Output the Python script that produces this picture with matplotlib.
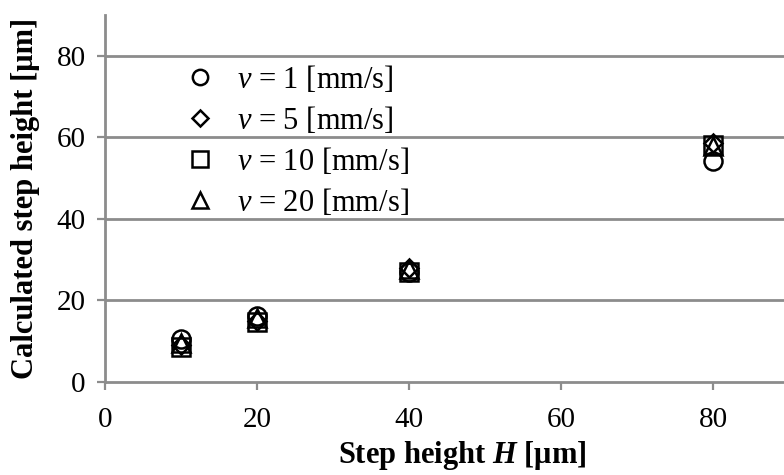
import numpy as np
import matplotlib
matplotlib.use("Agg")
from matplotlib import pyplot as plt

plt.rcParams['font.family'] = ['Liberation Serif', 'DejaVu Serif']
plt.rcParams['mathtext.fontset'] = 'custom'
plt.rcParams['mathtext.rm'] = 'Liberation Serif'
plt.rcParams['mathtext.it'] = 'Liberation Serif:italic'
plt.rcParams['mathtext.bf'] = 'Liberation Serif:bold:italic'

# step heights H [um]
step_h = [10, 20, 40, 80]

# calculated step height [um] for each scan speed
calc_v1 = [10.5, 16.3, 27.0, 54.3]
calc_v5 = [9.0, 15.0, 28.0, 58.5]
calc_v10 = [8.6, 14.6, 27.0, 58.0]
calc_v20 = [9.5, 15.6, 27.6, 57.8]

speeds = [1, 5, 10, 20]
markers = ['o', 'D', 's', '^']
msizes = [13, 9.5, 13, 13]

gray = '#8c8c8c'

fig = plt.figure(figsize=(7.84, 4.75), dpi=100)
ax = fig.add_axes([105/784, 93/475, 684/784, 367/475])

series = [calc_v1, calc_v5, calc_v10, calc_v20]
for vals, v, m, ms in zip(series, speeds, markers, msizes):
    ax.plot(step_h, vals, linestyle='none', marker=m, markersize=ms,
            markerfacecolor='none', markeredgecolor='black',
            markeredgewidth=1.8, label=r'$v$ = %d [mm/s]' % v)

ax.set_xlim(0, 90)
ax.set_ylim(0, 90)
ax.set_xticks([0, 20, 40, 60, 80])
ax.set_yticks([0, 20, 40, 60, 80])

for y in [20, 40, 60, 80]:
    ax.axhline(y, color=gray, lw=2, zorder=0)

for s in ['top', 'right']:
    ax.spines[s].set_visible(False)
for s in ['left', 'bottom']:
    ax.spines[s].set_color(gray)
    ax.spines[s].set_linewidth(2)

ax.tick_params(axis='both', colors=gray, width=1.6, length=6,
               labelsize=21, labelcolor='black')
ax.tick_params(axis='y', direction='out', pad=8)
ax.tick_params(axis='x', direction='out', pad=12)

ax.set_xlabel(r'Step height $\mathbf{H}$ [μm]', fontsize=22,
              fontweight='bold', labelpad=6)
ax.xaxis.set_label_coords(0.522, -0.155)
ax.set_ylabel('Calculated step height [μm]', fontsize=22,
              fontweight='bold', labelpad=12)

leg = ax.legend(loc='upper left', bbox_to_anchor=(0.103, 0.90), frameon=False,
                fontsize=22, markerscale=0.85, handlelength=0.8,
                handletextpad=0.81, labelspacing=0.33, borderaxespad=0)

fig.savefig('out.png', dpi=100)
